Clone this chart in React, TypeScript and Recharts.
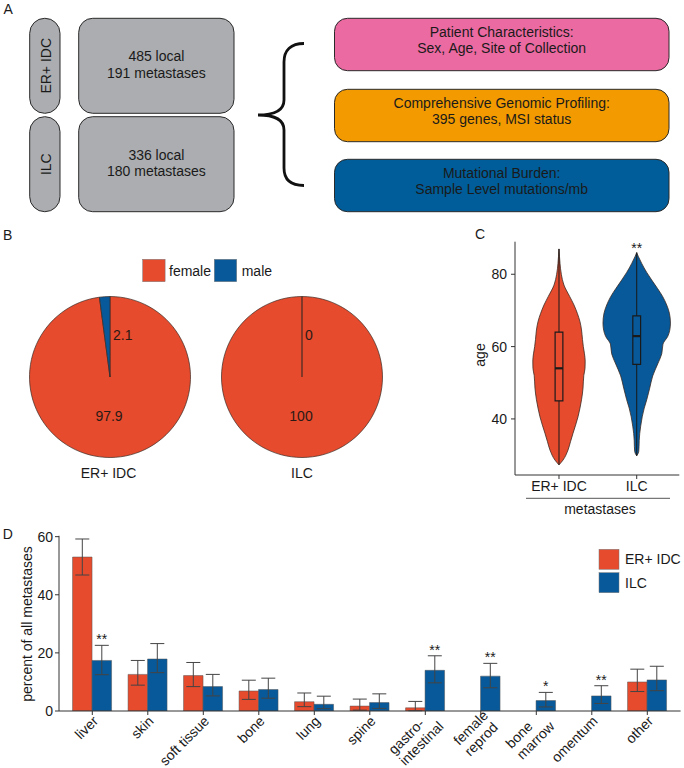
import React from "react";
import {
  PieChart,
  Pie,
  Cell,
  ComposedChart,
  Area,
  XAxis,
  YAxis,
  ReferenceArea,
  ReferenceLine,
  ReferenceDot,
  BarChart,
  Bar,
  ErrorBar,
  LabelList,
} from "recharts";

const RED = "#e64b2e";
const BLUE = "#07599a";
const INK = "#1a1a1a";
const OUTLINE = "#3b2a22";
const FONT = "'Liberation Sans', Arial, Helvetica, sans-serif";

// A: cohorts and analyses
const cohorts = ["ER+ IDC", "ILC"];
const cohortCounts = [
  ["485 local", "191 metastases"],
  ["336 local", "180 metastases"],
];
const analyses = [
  ["Patient Characteristics:", "Sex, Age, Site of Collection"],
  ["Comprehensive Genomic Profiling:", "395 genes, MSI status"],
  ["Mutational Burden:", "Sample Level mutations/mb"],
];
const analysisColors = ["#eb6aa1", "#f39a00", "#005d99"];

// B: sex, percent
const sexLabels = ["female", "male"];
const idcSex = [97.9, 2.1];
const ilcSex = [100, 0];

// C: age violins (half width in category units)
const violinGroups = ["ER+ IDC", "ILC"];
const idcAge = [27.3, 28.6, 31.4, 33.7, 36, 40.6, 43, 45.3, 48.5, 52, 54, 56, 58, 60, 62, 64.6, 66.9, 69.2, 71.5, 73.8, 77, 80, 83, 85, 87];
const idcHalfWidth = [0, 0.051, 0.116, 0.148, 0.18, 0.245, 0.27, 0.29, 0.309, 0.319, 0.335, 0.337, 0.328, 0.313, 0.302, 0.29, 0.27, 0.236, 0.193, 0.139, 0.064, 0.03, 0.013, 0.006, 0];
const ilcAge = [29.8, 31, 32.4, 34, 36, 38, 40.6, 43, 45.3, 48.5, 51.9, 55.2, 58, 60.7, 62.8, 64.5, 66.5, 69.2, 71.5, 73.8, 76, 78.4, 80.5, 83, 85, 86];
const ilcHalfWidth = [0, 0.026, 0.03, 0.032, 0.039, 0.051, 0.071, 0.097, 0.129, 0.167, 0.206, 0.27, 0.322, 0.338, 0.399, 0.425, 0.434, 0.421, 0.386, 0.335, 0.27, 0.193, 0.129, 0.064, 0.019, 0];
// min, q1, median, q3, max
const idcBox = [27.3, 45, 54, 64, 87];
const ilcBox = [29.8, 55.1, 62.9, 68.5, 86];
const ageSig = "**";

// D: metastatic sites
const sites = ["liver", "skin", "soft tissue", "bone", "lung", "spine", "gastro-\nintestinal", "female\nreprod", "bone\nmarrow", "omentum", "other"];
const idcPct = [53.0, 12.6, 12.2, 6.9, 3.2, 1.7, 1.1, 0, 0, 0, 10.0];
const idcErrLow = [6.2, 3.7, 3.8, 2.9, 1.7, 1.4, 1.0, 0, 0, 0, 3.3];
const idcErrHigh = [6.2, 4.8, 4.5, 3.7, 3.0, 2.4, 2.2, 1.6, 1.6, 1.6, 4.4];
const ilcPct = [17.4, 17.9, 8.4, 7.4, 2.3, 2.9, 14.0, 12.0, 3.6, 5.2, 10.7];
const ilcErrLow = [4.9, 4.7, 3.2, 3.0, 1.5, 2.0, 4.3, 4.0, 2.2, 2.6, 3.7];
const ilcErrHigh = [5.2, 5.3, 4.2, 3.9, 2.8, 3.0, 5.0, 4.4, 2.8, 3.5, 4.7];
const ilcSig = ["**", "", "", "", "", "", "**", "**", "*", "**", ""];

const idcViolin = idcAge.map((age, i) => ({ age, range: [1 - idcHalfWidth[i], 1 + idcHalfWidth[i]] }));
const ilcViolin = ilcAge.map((age, i) => ({ age, range: [2 - ilcHalfWidth[i], 2 + ilcHalfWidth[i]] }));

const siteData = sites.map((site, i) => ({
  site,
  idc: idcPct[i],
  idcErr: [idcErrLow[i], idcErrHigh[i]],
  ilc: ilcPct[i],
  ilcErr: [ilcErrLow[i], ilcErrHigh[i]],
  sig: ilcSig[i],
}));

let measureCtx: CanvasRenderingContext2D | null = null;
function textWidth(s: string) {
  if (!measureCtx) measureCtx = document.createElement("canvas").getContext("2d");
  if (!measureCtx) return s.length * 7;
  measureCtx.font = `14px ${FONT}`;
  return measureCtx.measureText(s).width;
}

function Overview() {
  const rowY = [18.3, 116.7];
  const rowH = 95;
  const boxY = [18.3, 89.3, 159.3];
  const boxH = 52.4;
  return (
    <svg width={684} height={222} style={{ position: "absolute", left: 0, top: 0 }} fontFamily={FONT}>
      <text x={3.5} y={14} fontSize={14} fill={INK}>A</text>
      {cohorts.map((c, i) => {
        const cy = rowY[i] + rowH / 2;
        return (
          <g key={c}>
            <rect x={29.7} y={rowY[i]} width={30.3} height={rowH} rx={15} fill="#abadb0" stroke="#2a2a2a" />
            <text transform={`translate(45.5,${cy}) rotate(-90)`} textAnchor="middle" dominantBaseline="central" fontSize={14} fill={INK}>
              {c}
            </text>
            <rect x={78.7} y={rowY[i]} width={155.3} height={rowH} rx={14} fill="#abadb0" stroke="#2a2a2a" />
            <text x={156.4} y={cy - 4.5} textAnchor="middle" fontSize={14} fill={INK}>{cohortCounts[i][0]}</text>
            <text x={156.4} y={cy + 12} textAnchor="middle" fontSize={14} fill={INK}>{cohortCounts[i][1]}</text>
          </g>
        );
      })}
      <path
        d="M304,43.5 C291,43.5 284,50 284,62 L284,100 C284,110 276,115 258,115 C276,115 284,120 284,130 L284,168 C284,180 291,185.5 304,185.5"
        fill="none"
        stroke="#111"
        strokeWidth={2.8}
      />
      {analyses.map((lines, i) => {
        const cy = boxY[i] + boxH / 2;
        return (
          <g key={lines[0]}>
            <rect x={334.5} y={boxY[i]} width={334.5} height={boxH} rx={13} fill={analysisColors[i]} stroke="#2a2a2a" />
            <text x={501.7} y={cy - 8} textAnchor="middle" fontSize={14} fill={INK}>{lines[0]}</text>
            <text x={501.7} y={cy + 8.6} textAnchor="middle" fontSize={14} fill={INK}>{lines[1]}</text>
          </g>
        );
      })}
    </svg>
  );
}

const renderPieLabel = (props: any) => {
  const { cx, cy, index, value } = props;
  if (index === 0) {
    return (
      <text x={cx - 1} y={cy + 43.5} textAnchor="middle" fontSize={14} fill="#2a1a15" fontFamily={FONT}>
        {value}
      </text>
    );
  }
  return (
    <text x={cx + 3} y={cy - 37} textAnchor="start" fontSize={14} fill="#2a1a15" fontFamily={FONT}>
      {value}
    </text>
  );
};

function SexPies() {
  const groups = [idcSex, ilcSex];
  return (
    <div style={{ position: "absolute", left: 0, top: 230 }}>
      <PieChart width={400} height={250} margin={{ top: 0, right: 0, bottom: 0, left: 0 }}>
        {groups.map((vals, k) => (
          <Pie
            key={k}
            data={sexLabels.map((name, i) => ({ name, value: vals[i] }))}
            dataKey="value"
            cx={110 + 192 * k}
            cy={147}
            outerRadius={80.5}
            startAngle={90}
            endAngle={-270}
            stroke={OUTLINE}
            strokeWidth={0.7}
            label={renderPieLabel}
            labelLine={false}
            isAnimationActive={false}
          >
            {sexLabels.map((s, i) => (
              <Cell key={s} fill={i === 0 ? RED : BLUE} />
            ))}
          </Pie>
        ))}
      </PieChart>
    </div>
  );
}

function AgeViolins() {
  const boxes = [idcBox, ilcBox];
  const half = 0.05;
  return (
    <div style={{ position: "absolute", left: 440, top: 230 }}>
      <ComposedChart
        layout="vertical"
        width={244}
        height={300}
        margin={{ top: 11.7, right: 4.7, bottom: 25, left: 0 }}
      >
        <XAxis
          type="number"
          domain={[0.434, 2.548]}
          ticks={[1, 2]}
          tickFormatter={(v: number) => violinGroups[v - 1]}
          allowDataOverflow
          height={30}
          tickSize={4}
          tick={{ fontSize: 14, fill: INK, fontFamily: FONT }}
          stroke="#333"
        />
        <YAxis
          type="number"
          dataKey="age"
          domain={[24.5, 89]}
          ticks={[40, 60, 80]}
          reversed
          allowDataOverflow
          width={75}
          tickSize={4}
          tickMargin={4}
          tick={{ fontSize: 14, fill: INK, fontFamily: FONT }}
          stroke="#333"
        />
        <Area data={idcViolin} dataKey="range" type="monotone" fill={RED} fillOpacity={1} stroke={OUTLINE} strokeWidth={0.8} isAnimationActive={false} />
        <Area data={ilcViolin} dataKey="range" type="monotone" fill={BLUE} fillOpacity={1} stroke={OUTLINE} strokeWidth={0.8} isAnimationActive={false} />
        {boxes.map((b, i) => {
          const c = i + 1;
          return [
            <ReferenceLine key={`lw${i}`} segment={[{ x: c, y: b[0] }, { x: c, y: b[1] }]} stroke={INK} strokeWidth={1} />,
            <ReferenceLine key={`uw${i}`} segment={[{ x: c, y: b[3] }, { x: c, y: b[4] }]} stroke={INK} strokeWidth={1} />,
            <ReferenceArea key={`bx${i}`} x1={c - half} x2={c + half} y1={b[1]} y2={b[3]} fill="none" fillOpacity={0} stroke={INK} strokeWidth={1.2} />,
            <ReferenceLine key={`md${i}`} segment={[{ x: c - half, y: b[2] }, { x: c + half, y: b[2] }]} stroke={INK} strokeWidth={2.2} />,
          ];
        })}
        <ReferenceDot
          x={2}
          y={ilcBox[4]}
          r={0.5}
          fill="none"
          stroke="none"
          label={{
            content: (p: any) => {
              const vb = p.viewBox || {};
              return (
                <text x={vb.x + (vb.width || 0) / 2} y={vb.y + 1} textAnchor="middle" fontSize={14} fill={INK} fontFamily={FONT}>
                  {ageSig}
                </text>
              );
            },
          }}
        />
      </ComposedChart>
    </div>
  );
}

// rotated site names; two-line names are left aligned and hang from the tick
const SiteTick = (props: any) => {
  const { x, y, payload } = props;
  const lines = String(payload.value).split("\n");
  const ay = y - 6;
  if (lines.length === 1) {
    return (
      <g transform={`translate(${x},${ay}) rotate(-45)`}>
        <text x={-3} y={12.5} textAnchor="end" fontSize={14} fill={INK} fontFamily={FONT}>
          {lines[0]}
        </text>
      </g>
    );
  }
  const w = Math.max(...lines.map(textWidth));
  return (
    <g transform={`translate(${x},${ay}) rotate(-45)`}>
      <text fontSize={14} fill={INK} fontFamily={FONT}>
        {lines.map((l, i) => (
          <tspan key={i} x={2 - w} y={9.5 + i * 15.5}>
            {l}
          </tspan>
        ))}
      </text>
    </g>
  );
};

const StarLabel = (props: any) => {
  const { index, value } = props;
  if (!value) return null;
  const vb = props.viewBox || props;
  const x = vb.x ?? props.x;
  const y = vb.y ?? props.y;
  const width = vb.width ?? props.width;
  const height = Math.abs(vb.height ?? props.height);
  const pxPer = height / ilcPct[index];
  const top = y - ilcErrHigh[index] * pxPer;
  return (
    <text x={x + width / 2} y={top - 1} textAnchor="middle" fontSize={14} fill={INK} fontFamily={FONT}>
      {value}
    </text>
  );
};

function SiteBars() {
  return (
    <div style={{ position: "absolute", left: 0, top: 520 }}>
      <BarChart
        width={684}
        height={248}
        data={siteData}
        margin={{ top: 15.8, right: 3.4, left: 0, bottom: 0 }}
        barGap={0}
        barSize={19.5}
      >
        <XAxis
          dataKey="site"
          interval={0}
          height={57}
          tickSize={4}
          tick={<SiteTick />}
          padding={{ left: 5.55, right: 5.55 }}
          stroke="#333"
        />
        <YAxis
          domain={[0, 60.3]}
          ticks={[0, 20, 40, 60]}
          allowDataOverflow
          width={59}
          tickSize={4}
          tickMargin={2}
          tick={{ fontSize: 14, fill: INK, fontFamily: FONT }}
          stroke="#333"
        />
        <Bar dataKey="idc" fill={RED} stroke="#555" strokeWidth={0.5} isAnimationActive={false}>
          <ErrorBar dataKey="idcErr" width={7} stroke="#444" strokeWidth={1} />
        </Bar>
        <Bar dataKey="ilc" fill={BLUE} stroke="#555" strokeWidth={0.5} isAnimationActive={false}>
          <ErrorBar dataKey="ilcErr" width={7} stroke="#444" strokeWidth={1} />
          <LabelList dataKey="sig" content={StarLabel} />
        </Bar>
      </BarChart>
    </div>
  );
}

function Annotations() {
  const txt = { fontSize: 14, fill: INK };
  return (
    <svg width={684} height={768} style={{ position: "absolute", left: 0, top: 0, pointerEvents: "none" }} fontFamily={FONT}>
      <text x={3} y={240} {...txt}>B</text>
      <text x={475} y={239.3} {...txt}>C</text>
      <text x={2.7} y={539} {...txt}>D</text>

      {/* B: legend and pie titles */}
      <rect x={142.7} y={259.3} width={22.4} height={22.4} fill={RED} stroke="#777" strokeWidth={0.5} />
      <text x={169} y={275.5} {...txt}>{sexLabels[0]}</text>
      <rect x={214.3} y={259.3} width={22.4} height={22.4} fill={BLUE} stroke="#777" strokeWidth={0.5} />
      <text x={241.7} y={275.5} {...txt}>{sexLabels[1]}</text>
      <text x={108.5} y={478} textAnchor="middle" {...txt}>{cohorts[0]}</text>
      <text x={302} y={478} textAnchor="middle" {...txt}>{cohorts[1]}</text>

      {/* C: axis titles */}
      <text transform="translate(479.5,355) rotate(-90)" textAnchor="middle" dominantBaseline="central" {...txt}>age</text>
      <line x1={526} x2={670} y1={498.3} y2={498.3} stroke="#555" strokeWidth={1} />
      <text x={600} y={514} textAnchor="middle" {...txt}>metastases</text>

      {/* D: axis title and legend */}
      <text transform="translate(26.7,624) rotate(-90)" textAnchor="middle" dominantBaseline="central" {...txt}>
        percent of all metastases
      </text>
      <rect x={599} y={549.3} width={20} height={20} fill={RED} stroke="#777" strokeWidth={0.5} />
      <text x={625} y={564.3} {...txt}>{violinGroups[0]}</text>
      <rect x={599} y={572.7} width={20} height={20} fill={BLUE} stroke="#777" strokeWidth={0.5} />
      <text x={625} y={587.6} {...txt}>{violinGroups[1]}</text>
    </svg>
  );
}

export default function App() {
  return (
    <div
      style={{
        position: "absolute",
        left: 0,
        top: 0,
        width: 684,
        height: 768,
        background: "#fff",
        fontFamily: FONT,
        overflow: "hidden",
      }}
    >
      <Overview />
      <SexPies />
      <AgeViolins />
      <SiteBars />
      <Annotations />
    </div>
  );
}
